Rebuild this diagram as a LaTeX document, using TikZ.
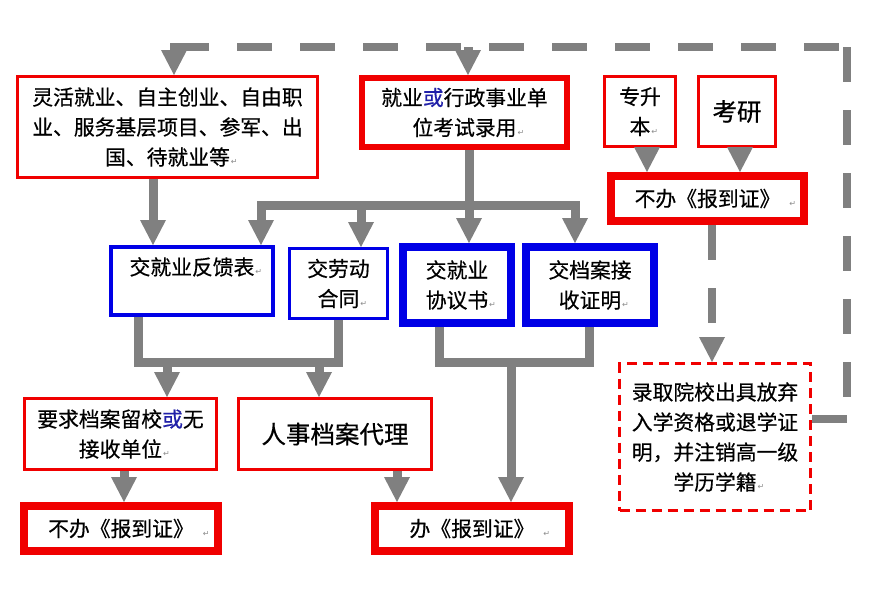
\documentclass[tikz,border=0pt]{standalone}
\usepackage{fontspec}
\setmainfont{Noto Sans CJK SC}[FakeBold=0.5]
\newfontfamily\djv{DejaVu Sans}
\usetikzlibrary{arrows.meta}
\definecolor{gr}{HTML}{808080}
\definecolor{rd}{HTML}{F00000}
\definecolor{bl}{HTML}{0000E6}
\definecolor{orb}{HTML}{2020A8}
\newcommand\pmk{\rlap{\hspace{1pt}{\djv\fontsize{8}{8}\selectfont\color{black!45}↵}}}
\newcommand\pmks{\rlap{\hspace{9pt}{\djv\fontsize{8}{8}\selectfont\color{black!45}↵}}}
\tikzset{
  gtip/.tip={Triangle[width=26pt,length=25pt,line width=0pt]},
  bx/.style={draw, inner sep=0pt, align=center, text=black, font=\fontsize{20.8}{30}\selectfont},
  big/.style={font=\fontsize{24.5}{30}\selectfont},
  rb/.style={bx, draw=rd},
  bb/.style={bx, draw=bl},
  rdash/.style={bx, draw=rd, dash pattern=on 10pt off 6pt},
  ga/.style={draw=gr, line width=9pt, -{gtip}},
  gl/.style={draw=gr, line width=9pt, line join=miter},
  gd/.style={draw=gr, line width=8pt, dash pattern=on 35pt off 28pt},
}
\begin{document}
\begin{tikzpicture}[x=1pt,y=-1pt]
\useasboundingbox (0,0) rectangle (874,606);
\fill[white] (0,0) rectangle (874,606);

% boxes
\node[rb, line width=3pt, minimum width=300pt, minimum height=101pt] (A) at (167.5,127) {灵活就业、自主创业、自由职\\业、服务基层项目、参军、出\\国、待就业等\pmk};
\node[rb, line width=6pt, minimum width=205pt, minimum height=69pt] (B) at (464.5,112.5) {就业{\color{orb}或}行政事业单\\位考试录用\pmk};
\node[rb, line width=3pt, minimum width=71pt, minimum height=70pt] (C) at (640,111.5) {专升\\本\pmk};
\node[rb, big, line width=3pt, minimum width=77pt, minimum height=70pt] (D) at (737,111.5) {考研};
\node[rb, line width=8pt, minimum width=193pt, minimum height=45pt] (E) at (707.5,198.5) {不办《报到证》\pmks};
\node[bb, line width=4pt, minimum width=162pt, minimum height=68pt] (F) at (192,281) {交就业反馈表\pmk\\\mbox{}};
\node[bb, line width=3pt, minimum width=98pt, minimum height=70pt] (G) at (338.5,283.5) {交劳动\\合同\pmk};
\node[bb, line width=8pt, minimum width=108pt, minimum height=76pt] (H) at (457,285) {交就业\\协议书\pmk};
\node[bb, line width=8pt, minimum width=128pt, minimum height=76pt] (I) at (590,285) {交档案接\\收证明\pmk};
\node[rb, line width=3pt, minimum width=192pt, minimum height=71pt] (J) at (120.5,434) {要求档案留校{\color{orb}或}无\\接收单位\pmk};
\node[rb, big, line width=3pt, minimum width=193pt, minimum height=71pt] (K) at (335,434) {人事档案代理};
\node[rb, line width=8pt, minimum width=194pt, minimum height=45pt] (L) at (121,528.5) {不办《报到证》\pmks};
\node[rb, line width=8pt, minimum width=194pt, minimum height=45pt] (M) at (472,528.5) {办《报到证》\pmks};
\node[rdash, line width=3pt, minimum width=191pt, minimum height=147pt] (N) at (715,437) {录取院校出具放弃\\入学资格或退学证\\明，并注销高一级\\学历学籍\pmk};

% helper coordinates
\coordinate (tl) at (174,47); \coordinate (tl0) at (174,43);
\coordinate (tm) at (468,47);
\coordinate (tr) at (847,47);
\coordinate (br) at (847,419);
\coordinate (xa) at (153,0);
\coordinate (b1l) at (261,205); \coordinate (b1g) at (361,205);
\coordinate (b1h) at (469,205); \coordinate (b1r) at (575,205);
\coordinate (xc) at (647,0); \coordinate (xd) at (740,0); \coordinate (xe) at (712,0);
\coordinate (xf) at (138,0); \coordinate (b2g) at (338,362);
\coordinate (b2j) at (167,362); \coordinate (b2k) at (319,362);
\coordinate (xh) at (439,0); \coordinate (b2i) at (589,362);
\coordinate (b2m) at (511,362);
\coordinate (xj) at (124,0); \coordinate (xk) at (397,0);

% dashed feedback loop
\draw[gd] (tl) -- (tr);
\draw[gd] (tr) -- (br);
\draw[gd] (br) -- (N.east |- br);
\draw[ga] (tl0) -- (A.north -| tl);
\draw[ga] (tm) -- (B.north -| tm);

% top-left to feedback form
\draw[ga] (A.south -| xa) -- (F.north -| xa);

% distribution bar from B
\draw[gl, {gtip}-{gtip}] (F.north -| b1l) |- (b1r) -- (I.north -| b1r);
\draw[ga] (b1g) -- (G.north -| b1g);
\draw[ga] (B.south -| b1h) -- (H.north -| b1h);

% top right
\draw[ga] (C.south -| xc) -- (E.north -| xc);
\draw[ga] (D.south -| xd) -- (E.north -| xd);
\draw[gd, -{gtip}] (E.south -| xe) -- (N.north -| xe);

% collecting bars
\draw[gl] (F.south -| xf) |- (b2g) -- (G.south -| b2g);
\draw[ga] (b2j) -- (J.north -| b2j);
\draw[ga] (b2k) -- (K.north -| b2k);
\draw[gl] (H.south -| xh) |- (b2i) -- (I.south -| b2i);
\draw[ga] (b2m) -- (M.north -| b2m);

% bottom
\draw[ga] (J.south -| xj) -- (L.north -| xj);
\draw[ga] (K.south -| xk) -- (M.north -| xk);
\end{tikzpicture}
\end{document}
